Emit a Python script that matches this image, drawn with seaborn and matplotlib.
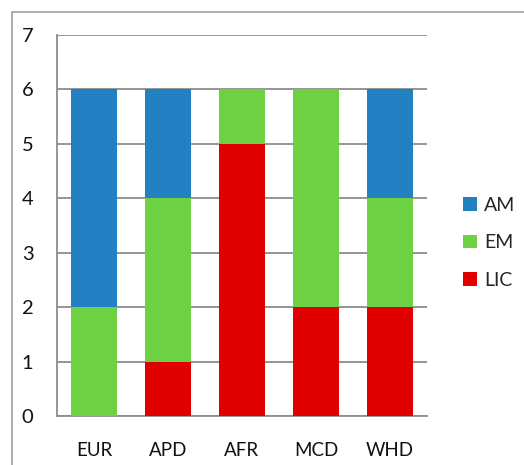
import numpy as np
import pandas as pd
import seaborn as sns
import matplotlib.pyplot as plt
from matplotlib.patches import Rectangle

regions = ["EUR", "APD", "AFR", "MCD", "WHD"]
lic = [0, 1, 5, 2, 2]
em = [2, 3, 1, 4, 2]
am = [4, 2, 0, 0, 2]

colors = {"LIC": "#e00000", "EM": "#6dd143", "AM": "#2380c2"}

sns.set_style("white")
plt.rcParams['font.family'] = ['Lato', 'DejaVu Sans']

fig = plt.figure(figsize=(5.24, 4.65), dpi=100)
ax = fig.add_axes([57 / 524, 1 - 416 / 465, 370 / 524, 381 / 465])

# outer chart border (cropped Excel chart area)
fig.patches.append(Rectangle((12 / 524, -0.1), 1.2, (1 - 12 / 465) + 0.1,
                             transform=fig.transFigure, fill=False,
                             edgecolor="#a0a0a0", linewidth=1.2))

bottom = np.zeros(len(regions))
for name, vals in [("LIC", lic), ("EM", em), ("AM", am)]:
    df = pd.DataFrame({"region": regions, "value": vals})
    sns.barplot(data=df, x="region", y="value", color=colors[name],
                bottom=bottom, width=0.635, ax=ax, saturation=1,
                linewidth=0, label=name, zorder=3)
    bottom = bottom + np.array(vals)

ax.set_ylim(0, 7)
ax.set_xlim(-0.5, 4.5)
ax.set_yticks(range(8))
ax.yaxis.grid(True, color="#8c8c8c", linewidth=1.3)
ax.set_axisbelow(True)
ax.set_xlabel("")
ax.set_ylabel("")
for s in ["top", "right"]:
    ax.spines[s].set_visible(False)
for s in ["left", "bottom"]:
    ax.spines[s].set_color("#8c8c8c")
    ax.spines[s].set_linewidth(1.3)
ax.tick_params(axis="y", labelsize=14.5, pad=17, length=0, labelcolor="#111111")
ax.tick_params(axis="x", labelsize=13.5, pad=19, length=0, labelcolor="#111111")

handles, labels = ax.get_legend_handles_labels()
order = ["AM", "EM", "LIC"]
hmap = dict(zip(labels, handles))
ax.legend([hmap[k] for k in order], order, loc="center left",
          bbox_to_anchor=(1.05, 0.455), frameon=False, fontsize=14,
          handlelength=0.7, handleheight=0.7, handletextpad=0.4,
          labelspacing=1.05)

fig.savefig("out.png", dpi=100)
